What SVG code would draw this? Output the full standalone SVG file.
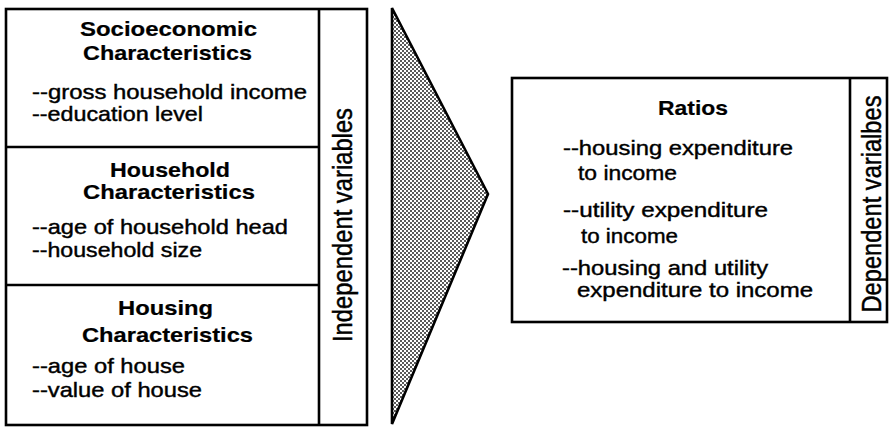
<svg xmlns="http://www.w3.org/2000/svg" width="890" height="428" viewBox="0 0 890 428">
  <style>
    .box { fill: #fff; stroke: #000; stroke-width: 2.6; }
    .rule { stroke: #000; stroke-width: 2.6; fill: none; }
    .t { font-family: "Liberation Sans", Arial, Helvetica, sans-serif; font-size: 20px; fill: #000; stroke: #000; stroke-width: 0.4; }
    .b { font-weight: bold; stroke-width: 0.2; }
    .v { font-family: "Liberation Sans", Arial, Helvetica, sans-serif; font-size: 24px; fill: #000; stroke: #000; stroke-width: 0.4; text-anchor: middle; }
  </style>
  <defs>
    <!-- halftone dot screen for the arrow wedge -->
    <pattern id="dots" width="4" height="4" patternUnits="userSpaceOnUse">
      <rect width="4" height="4" fill="#fff"/>
      <circle cx="1" cy="1" r="1" fill="#222"/>
      <circle cx="3" cy="3" r="1" fill="#222"/>
    </pattern>
  </defs>
  <rect width="890" height="428" fill="#fff"/>

  <!-- independent variables block; body lines are set 20% wide -->
  <g id="independent">
    <rect class="box" x="6" y="9" width="361" height="416"/>
    <line class="rule" x1="319" y1="9" x2="319" y2="425"/>
    <text class="v" transform="translate(352,225) scale(1.12,1) rotate(-90)" textLength="234" lengthAdjust="spacingAndGlyphs">Independent variables</text>
  </g>

  <g id="socioeconomic">
    <line class="rule" x1="6" y1="147" x2="319" y2="147"/>
    <text class="t b" transform="matrix(1.2 0 0 1 80 36)" textLength="147.5" lengthAdjust="spacingAndGlyphs">Socioeconomic</text>
    <text class="t b" transform="matrix(1.2 0 0 1 83 60)" textLength="140.8" lengthAdjust="spacingAndGlyphs">Characteristics</text>
    <text class="t" transform="matrix(1.2 0 0 1 32 99)" textLength="229.2" lengthAdjust="spacingAndGlyphs">--gross household income</text>
    <text class="t" transform="matrix(1.2 0 0 1 32 121)" textLength="142.5" lengthAdjust="spacingAndGlyphs">--education level</text>
  </g>

  <g id="household">
    <line class="rule" x1="6" y1="285" x2="319" y2="285"/>
    <text class="t b" transform="matrix(1.2 0 0 1 110 177)" textLength="100" lengthAdjust="spacingAndGlyphs">Household</text>
    <text class="t b" transform="matrix(1.2 0 0 1 83 199)" textLength="143.3" lengthAdjust="spacingAndGlyphs">Characteristics</text>
    <text class="t" transform="matrix(1.2 0 0 1 32 234)" textLength="213.3" lengthAdjust="spacingAndGlyphs">--age of household head</text>
    <text class="t" transform="matrix(1.2 0 0 1 32 257)" textLength="141.7" lengthAdjust="spacingAndGlyphs">--household size</text>
  </g>

  <g id="housing">
    <text class="t b" transform="matrix(1.2 0 0 1 118 315)" textLength="79.2" lengthAdjust="spacingAndGlyphs">Housing</text>
    <text class="t b" transform="matrix(1.2 0 0 1 82 342)" textLength="142.5" lengthAdjust="spacingAndGlyphs">Characteristics</text>
    <text class="t" transform="matrix(1.2 0 0 1 32 373)" textLength="127.5" lengthAdjust="spacingAndGlyphs">--age of house</text>
    <text class="t" transform="matrix(1.2 0 0 1 32 397)" textLength="141.7" lengthAdjust="spacingAndGlyphs">--value of house</text>
  </g>

  <!-- wedge pointing from the inputs to the outputs -->
  <g id="connectors">
    <polygon points="392,8 488,194 392,424" fill="url(#dots)" stroke="#000" stroke-width="2.6" stroke-linejoin="miter"/>
  </g>

  <!-- dependent variables block -->
  <g id="ratios">
    <rect class="box" x="512" y="78" width="375" height="244"/>
    <line class="rule" x1="850" y1="78" x2="850" y2="322"/>
    <text class="t b" transform="matrix(1.2 0 0 1 658 115)" textLength="58.3" lengthAdjust="spacingAndGlyphs">Ratios</text>
    <text class="t" transform="matrix(1.2 0 0 1 563 155)" textLength="191.7" lengthAdjust="spacingAndGlyphs">--housing expenditure</text>
    <text class="t" transform="matrix(1.2 0 0 1 578 180)" textLength="82.5" lengthAdjust="spacingAndGlyphs">to income</text>
    <text class="t" transform="matrix(1.2 0 0 1 563 217)" textLength="170.8" lengthAdjust="spacingAndGlyphs">--utility expenditure</text>
    <text class="t" transform="matrix(1.2 0 0 1 581 243)" textLength="80.8" lengthAdjust="spacingAndGlyphs">to income</text>
    <text class="t" transform="matrix(1.2 0 0 1 562 275)" textLength="171.7" lengthAdjust="spacingAndGlyphs">--housing and utility</text>
    <text class="t" transform="matrix(1.2 0 0 1 577 297)" textLength="196.7" lengthAdjust="spacingAndGlyphs">expenditure to income</text>
    <text class="v" transform="translate(881,204) scale(1.12,1) rotate(-90)" textLength="217" lengthAdjust="spacingAndGlyphs">Dependent varialbes</text>
  </g>
</svg>
